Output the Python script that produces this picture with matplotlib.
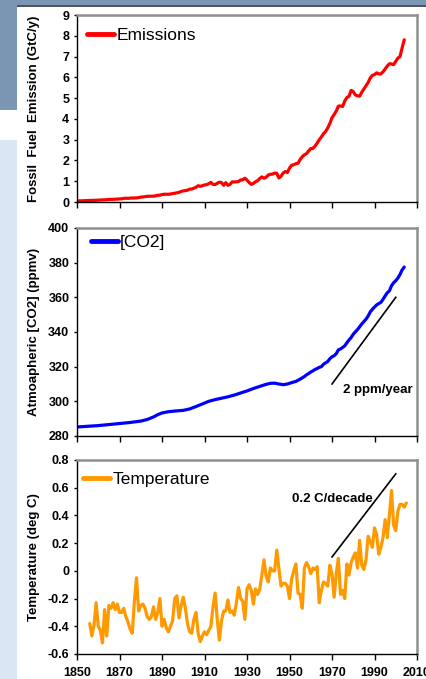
import matplotlib
matplotlib.use("Agg")
import matplotlib.pyplot as plt
from matplotlib.patches import Rectangle
from matplotlib.ticker import FuncFormatter

plt.rcParams['font.family'] = ['Liberation Sans', 'DejaVu Sans']
plt.rcParams['axes.unicode_minus'] = False

# ---------------- data ----------------
emis_years = list(range(1850, 2005))
emissions = [
    0.054, 0.054, 0.057, 0.059, 0.069, 0.071, 0.076, 0.077, 0.078, 0.083,
    0.091, 0.095, 0.097, 0.104, 0.112, 0.119, 0.122, 0.130, 0.135, 0.142,
    0.147, 0.156, 0.173, 0.184, 0.174, 0.188, 0.191, 0.195, 0.196, 0.210,
    0.236, 0.243, 0.256, 0.272, 0.275, 0.277, 0.281, 0.295, 0.327, 0.327,
    0.356, 0.372, 0.374, 0.370, 0.383, 0.406, 0.419, 0.440, 0.465, 0.507,
    0.534, 0.552, 0.566, 0.617, 0.624, 0.663, 0.707, 0.784, 0.750, 0.785,
    0.819, 0.836, 0.879, 0.943, 0.850, 0.838, 0.901, 0.955, 0.936, 0.806,
    0.932, 0.803, 0.845, 0.970, 0.963, 0.975, 0.983, 1.062, 1.065, 1.145,
    1.053, 0.940, 0.847, 0.893, 0.973, 1.027, 1.130, 1.209, 1.142, 1.192,
    1.299, 1.334, 1.342, 1.391, 1.383, 1.160, 1.238, 1.392, 1.469, 1.419,
    1.630, 1.767, 1.795, 1.841, 1.865, 2.043, 2.177, 2.270, 2.330, 2.454,
    2.569, 2.580, 2.686, 2.833, 2.995, 3.130, 3.288, 3.393, 3.566, 3.780,
    4.053, 4.208, 4.376, 4.614, 4.623, 4.596, 4.864, 5.026, 5.087, 5.369,
    5.315, 5.152, 5.113, 5.094, 5.280, 5.439, 5.607, 5.752, 5.965, 6.097,
    6.127, 6.217, 6.164, 6.162, 6.266, 6.398, 6.542, 6.651, 6.643, 6.610,
    6.765, 6.927, 6.996, 7.416, 7.807,
]

co2_years = [
    1850, 1855, 1860, 1865, 1870, 1875, 1880, 1883, 1886, 1888, 1890, 1893,
    1896, 1900, 1903, 1906, 1909, 1912, 1915, 1918, 1921, 1924, 1927, 1930,
    1933, 1936, 1939, 1941, 1943, 1945, 1947, 1949, 1951, 1953, 1955, 1957,
    1958, 1959, 1960, 1961, 1962, 1963, 1964, 1965, 1966, 1967, 1968, 1969,
    1970, 1971, 1972, 1973, 1974, 1975, 1976, 1977, 1978, 1979, 1980, 1981,
    1982, 1983, 1984, 1985, 1986, 1987, 1988, 1989, 1990, 1991, 1992, 1993,
    1994, 1995, 1996, 1997, 1998, 1999, 2000, 2001, 2002, 2003, 2004,
]
co2 = [
    285.2, 285.6, 286.0, 286.6, 287.2, 287.8, 288.6, 289.5, 291.0, 292.3, 293.3, 294.0,
    294.4, 294.8, 295.6, 297.0, 298.5, 300.0, 301.0, 301.8, 302.6, 303.6, 304.8, 306.0,
    307.4, 308.6, 309.8, 310.4, 310.5, 310.0, 309.6, 310.0, 310.8, 311.5, 312.8, 314.3,
    315.3, 316.0, 316.9, 317.6, 318.4, 318.9, 319.6, 320.0, 321.4, 322.2, 323.0, 324.6,
    325.7, 326.3, 327.5, 329.7, 330.2, 331.1, 332.0, 333.8, 335.4, 336.8, 338.7, 340.1,
    341.4, 343.0, 344.6, 346.0, 347.4, 349.2, 351.6, 353.1, 354.4, 355.6, 356.4, 357.1,
    358.8, 360.8, 362.6, 363.7, 366.7, 368.4, 369.6, 371.1, 373.2, 375.8, 377.5,
]

temp_years = list(range(1856, 2006))
temperature = [
    -0.38, -0.47, -0.39, -0.23, -0.40, -0.43, -0.52, -0.28, -0.47, -0.25,
    -0.27, -0.23, -0.28, -0.24, -0.30, -0.30, -0.27, -0.33, -0.37, -0.42,
    -0.45, -0.22, -0.05, -0.29, -0.25, -0.24, -0.27, -0.33, -0.35, -0.33,
    -0.26, -0.35, -0.30, -0.20, -0.40, -0.35, -0.41, -0.44, -0.40, -0.36,
    -0.20, -0.18, -0.34, -0.25, -0.19, -0.27, -0.38, -0.44, -0.45, -0.35,
    -0.30, -0.45, -0.51, -0.47, -0.44, -0.46, -0.43, -0.40, -0.26, -0.16,
    -0.35, -0.50, -0.36, -0.29, -0.29, -0.21, -0.30, -0.29, -0.32, -0.23,
    -0.12, -0.20, -0.22, -0.35, -0.13, -0.10, -0.14, -0.24, -0.13, -0.17,
    -0.13, -0.03, 0.08, -0.04, -0.08, 0.02, 0.00, 0.00, 0.15, 0.02,
    -0.11, -0.09, -0.09, -0.11, -0.20, -0.06, 0.00, 0.05, -0.16, -0.17,
    -0.27, 0.02, 0.06, 0.03, -0.02, 0.02, 0.01, 0.03, -0.23, -0.14,
    -0.08, -0.09, -0.11, 0.04, -0.02, -0.19, -0.02, 0.09, -0.17, -0.14,
    -0.20, 0.05, -0.03, 0.06, 0.10, 0.13, 0.02, 0.22, 0.04, 0.01,
    0.08, 0.25, 0.21, 0.17, 0.31, 0.26, 0.12, 0.17, 0.24, 0.37,
    0.24, 0.40, 0.58, 0.33, 0.29, 0.43, 0.48, 0.48, 0.46, 0.49,
]

x_ticks = [1850, 1870, 1890, 1910, 1930, 1950, 1970, 1990, 2010]
emis_ticks = [0, 1, 2, 3, 4, 5, 6, 7, 8, 9]
co2_ticks = [280, 300, 320, 340, 360, 380, 400]
temp_ticks = [-0.6, -0.4, -0.2, 0, 0.2, 0.4, 0.6, 0.8]

# ---------------- figure ----------------
W, H = 426, 679
fig = plt.figure(figsize=(W / 100, H / 100), dpi=100)
fig.patch.set_facecolor('white')


def frect(x0, y0, x1, y1, color):
    """rectangle given in pixel coords (top-left origin)"""
    fig.patches.append(Rectangle((x0 / W, 1 - y1 / H), (x1 - x0) / W, (y1 - y0) / H,
                                 transform=fig.transFigure, facecolor=color,
                                 edgecolor='none', zorder=-10))


frect(0, 0, W, 5, '#7b96b2')
frect(17, 5, W, 7, '#4d5561')
frect(0, 0, 17, 110, '#7b96b2')
frect(0, 140, 17, H, '#d9e6f3')


def add_axes(top, bottom, left=77, right=417):
    return fig.add_axes([left / W, 1 - bottom / H, (right - left) / W, (bottom - top) / H])


ax1 = add_axes(15, 202)
ax2 = add_axes(228, 436)
ax3 = add_axes(460, 654)


def style(ax, yticks, ylabel, show_x):
    ax.set_xlim(1850, 2010)
    ax.set_xticks(x_ticks)
    ax.set_yticks(yticks)
    ax.set_ylim(yticks[0], yticks[-1])
    for s in ('top', 'right'):
        ax.spines[s].set_color('#8f8f8f')
        ax.spines[s].set_linewidth(1.8)
    for s in ('left', 'bottom'):
        ax.spines[s].set_color('black')
        ax.spines[s].set_linewidth(1.0)
    ax.tick_params(axis='x', direction='out', length=4.5, width=1.0, pad=5,
                   labelbottom=show_x, labelsize=9)
    ax.tick_params(axis='y', direction='out', length=2.5, width=1.0, pad=3, labelsize=9)
    ax.set_ylabel(ylabel, fontsize=9.5, fontweight='bold', va='center')
    ax.yaxis.set_label_coords(-0.125, 0.5)


ax1.plot(emis_years, emissions, color='#ff0000', lw=2.3, label='Emissions',
         solid_capstyle='round', solid_joinstyle='round')
style(ax1, emis_ticks, 'Fossil  Fuel  Emission (GtC/y)', False)
ax1.legend(loc='center left', bbox_to_anchor=(0.029, 0.889), frameon=False,
           borderpad=0, borderaxespad=0, handlelength=1.55, handletextpad=0.15,
           prop=dict(size=12.5))

ax2.plot(co2_years, co2, color='#0000ff', lw=2.3, label='[CO2]',
         solid_capstyle='round', solid_joinstyle='round')
style(ax2, co2_ticks, 'Atmoapheric [CO2] (ppmv)', False)
ax2.legend(loc='center left', bbox_to_anchor=(0.04, 0.93), frameon=False,
           borderpad=0, borderaxespad=0, handlelength=1.55, handletextpad=0.15,
           prop=dict(size=12.5))
ax2.plot([1970, 2000], [310, 360], color='black', lw=1.2)
ax2.text(1975, 306.5, '2 ppm/year', fontsize=9.5, fontweight='bold', ha='left', va='center')

ax3.plot(temp_years, temperature, color='#ff9900', lw=2.3, label='Temperature',
         solid_capstyle='round', solid_joinstyle='round')
style(ax3, temp_ticks, 'Temperature (deg C)', True)
ax3.yaxis.set_major_formatter(FuncFormatter(lambda v, p: f"{round(v, 1):g}"))
ax3.legend(loc='center left', bbox_to_anchor=(0.019, 0.90), frameon=False,
           borderpad=0, borderaxespad=0, handlelength=1.55, handletextpad=0.15,
           prop=dict(size=12.5))
ax3.plot([1970, 2000], [0.1, 0.7], color='black', lw=1.2)
ax3.text(1951, 0.52, '0.2 C/decade', fontsize=9.5, fontweight='bold', ha='left', va='center')

for ax in (ax1, ax2, ax3):
    for lab in ax.get_yticklabels() + ax.get_xticklabels():
        lab.set_fontweight('bold')
    for line in ax.get_legend().get_lines():
        line.set_linewidth(3.5)

fig.savefig('out.png', dpi=100, facecolor='white')
